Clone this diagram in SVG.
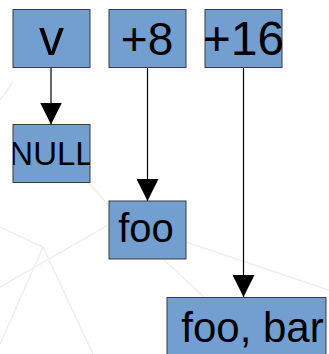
<svg xmlns="http://www.w3.org/2000/svg" width="329" height="354" viewBox="0 0 329 354">
  <style>
    .box { fill: #729fcf; stroke: #3a3a3a; stroke-width: 1; }
    .lbl { font-family: "Liberation Sans", Arial, sans-serif; fill: #000; text-anchor: middle; }
    .edge { stroke: #000; stroke-width: 1.2; fill: none; marker-end: url(#head); }
    .bg { stroke: #eeeeee; stroke-width: 1.5; fill: none; }
  </style>
  <defs>
    <marker id="head" viewBox="0 0 22 22" markerWidth="22" markerHeight="22" refX="22" refY="11" markerUnits="userSpaceOnUse" orient="auto">
      <path d="M0,0 L22,11 L0,22 z" fill="#000"/>
    </marker>
    <clipPath id="clip16"><rect x="205" y="9.5" width="77" height="58"/></clipPath>
    <clipPath id="clipNull"><rect x="13" y="124.5" width="77" height="58"/></clipPath>
  </defs>

  <rect x="0" y="0" width="329" height="354" fill="#fff"/>

  <!-- faint backdrop mesh -->
  <g id="backdrop">
    <path class="bg" d="M0,287 L110,224"/>
    <path class="bg" d="M0,227 L43,247 L0,344"/>
    <path class="bg" d="M43,247 L93,354"/>
    <path class="bg" d="M88,182 L110,207"/>
    <path class="bg" d="M186,242 L329,290"/>
    <path class="bg" d="M164,260 L204,297"/>
    <path class="bg" d="M0,100 L13,82"/>
  </g>

  <!-- connectors -->
  <g id="connectors">
    <line class="edge" x1="51" y1="67.5" x2="51" y2="124.5"/>
    <line class="edge" x1="147.5" y1="67.5" x2="147.5" y2="201"/>
    <line class="edge" x1="243.5" y1="67.5" x2="243.5" y2="297"/>
  </g>

  <g id="node-v">
    <rect class="box" x="13" y="9.5" width="77" height="58"/>
    <text class="lbl" x="51.5" y="54.5" font-size="50">v</text>
  </g>

  <g id="node-plus8">
    <rect class="box" x="109" y="9.5" width="77" height="58"/>
    <text class="lbl" x="147" y="55" font-size="46">+8</text>
  </g>

  <g id="node-plus16">
    <rect class="box" x="205" y="9.5" width="77" height="58"/>
    <text class="lbl" x="243.5" y="55" font-size="48" clip-path="url(#clip16)">+16</text>
  </g>

  <g id="node-null">
    <rect class="box" x="13" y="124.5" width="77" height="58"/>
    <text class="lbl" x="51.5" y="165" font-size="33" clip-path="url(#clipNull)">NULL</text>
  </g>

  <g id="node-foo">
    <rect class="box" x="109" y="201" width="77" height="58"/>
    <text class="lbl" x="146" y="242" font-size="40">foo</text>
  </g>

  <g id="node-foobar">
    <rect class="box" x="167" y="297.5" width="159" height="62"/>
    <text class="lbl" x="252.5" y="341.5" font-size="42">foo, bar</text>
  </g>
</svg>
